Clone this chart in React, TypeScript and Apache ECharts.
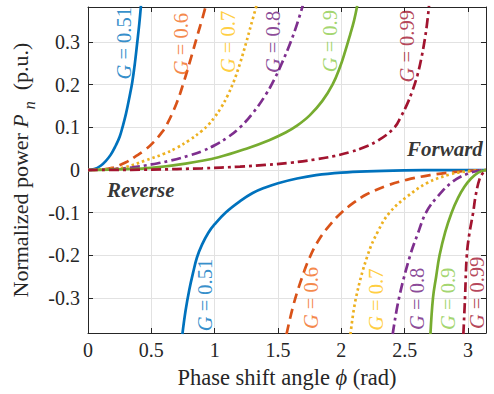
import React, { useEffect, useRef } from "react";
import * as echarts from "echarts";

const X_MAX = 3.1416;
const Y_MIN = -0.382;
const Y_MAX = 0.382;

const gNames = ["0.51", "0.6", "0.7", "0.8", "0.9", "0.99"];

// upper (positive) branches, [phi, Pn]
const up051 = [[0, 0], [0.05, 0.002], [0.1, 0.01], [0.14, 0.021], [0.18, 0.036], [0.22, 0.058], [0.25, 0.078], [0.272, 0.1], [0.3, 0.132], [0.33, 0.175], [0.35, 0.207], [0.37, 0.25], [0.388, 0.297], [0.405, 0.343], [0.418, 0.385]];
const up06 = [[0, 0], [0.1, 0.001], [0.2, 0.006], [0.3, 0.018], [0.37, 0.031], [0.45, 0.047], [0.52, 0.066], [0.58, 0.087], [0.62, 0.105], [0.7, 0.157], [0.76, 0.21], [0.82, 0.27], [0.87, 0.322], [0.9, 0.352], [0.93, 0.385]];
const up07 = [[0, 0], [0.2, 0.003], [0.3, 0.007], [0.45, 0.022], [0.6, 0.038], [0.7, 0.052], [0.8, 0.07], [0.9, 0.092], [0.95, 0.106], [1.0, 0.124], [1.05, 0.146], [1.1, 0.173], [1.15, 0.207], [1.2, 0.25], [1.25, 0.3], [1.29, 0.343], [1.33, 0.385]];
const up08 = [[0, 0], [0.2, 0.002], [0.35, 0.006], [0.5, 0.013], [0.65, 0.022], [0.8, 0.034], [0.9, 0.044], [1.0, 0.058], [1.1, 0.076], [1.2, 0.1], [1.3, 0.133], [1.4, 0.175], [1.47, 0.212], [1.53, 0.25], [1.6, 0.3], [1.65, 0.342], [1.695, 0.385]];
const up09 = [[0, 0], [0.3, 0.002], [0.5, 0.005], [0.77, 0.015], [1.03, 0.03], [1.25, 0.05], [1.43, 0.07], [1.56, 0.088], [1.65, 0.104], [1.75, 0.128], [1.85, 0.162], [1.93, 0.2], [1.99, 0.242], [2.03, 0.278], [2.07, 0.318], [2.1, 0.35], [2.125, 0.385]];
const up099 = [[0, 0], [0.5, 0.001], [0.9, 0.004], [1.2, 0.008], [1.4, 0.012], [1.6, 0.017], [1.8, 0.025], [1.95, 0.033], [2.07, 0.042], [2.17, 0.052], [2.3, 0.071], [2.42, 0.1], [2.47, 0.125], [2.52, 0.155], [2.56, 0.185], [2.6, 0.222], [2.63, 0.26], [2.655, 0.3], [2.675, 0.34], [2.692, 0.385]];

// lower (negative) branches
const down051 = [[0.745, -0.385], [0.77, -0.33], [0.8, -0.28], [0.83, -0.24], [0.86, -0.205], [0.9, -0.175], [0.95, -0.147], [1.0, -0.127], [1.085, -0.1], [1.2, -0.073], [1.3, -0.054], [1.4, -0.041], [1.5, -0.031], [1.65, -0.02], [1.8, -0.012], [2.0, -0.006], [2.2, -0.003], [2.5, -0.001], [2.8, -0.0003], [3.1416, 0]];
const down06 = [[1.567, -0.385], [1.62, -0.318], [1.68, -0.26], [1.75, -0.205], [1.83, -0.16], [1.92, -0.125], [2.0, -0.1], [2.1, -0.076], [2.2, -0.057], [2.357, -0.037], [2.515, -0.023], [2.7, -0.012], [2.88, -0.005], [3.0, -0.002], [3.1416, 0]];
const down07 = [[2.072, -0.385], [2.115, -0.3], [2.207, -0.2], [2.29, -0.143], [2.38, -0.1], [2.52, -0.062], [2.68, -0.03], [2.85, -0.011], [2.97, -0.004], [3.1416, 0]];
const down08 = [[2.405, -0.385], [2.455, -0.3], [2.543, -0.2], [2.6, -0.152], [2.668, -0.1], [2.76, -0.062], [2.88, -0.027], [3.0, -0.008], [3.08, -0.002], [3.1416, 0]];
const down09 = [[2.703, -0.385], [2.723, -0.3], [2.748, -0.25], [2.775, -0.2], [2.82, -0.145], [2.87, -0.1], [2.92, -0.066], [2.97, -0.04], [3.02, -0.021], [3.08, -0.006], [3.1416, 0]];
const down099 = [[2.963, -0.385], [2.976, -0.3], [2.99, -0.2], [3.01, -0.15], [3.04, -0.1], [3.06, -0.06], [3.09, -0.022], [3.12, -0.006], [3.1416, 0]];

const upBranches = [up051, up06, up07, up08, up09, up099];
const downBranches = [down051, down06, down07, down08, down09, down099];

// label anchors (data coordinates)
const upLabelAt = [[0.286, 0.297], [0.736, 0.295], [1.106, 0.3], [1.457, 0.3], [1.909, 0.302], [2.515, 0.29]];
const downLabelAt = [[0.926, -0.293], [1.759, -0.3], [2.272, -0.304], [2.599, -0.302], [2.841, -0.302], [3.073, -0.288]];
const forwardAt = [2.817, 0.049];
const reverseAt = [0.416, -0.048];

const lineColors = ["#0072BD", "#D95319", "#EDB120", "#7E2F8E", "#77AC30", "#A2142F"];
const labelColors = ["#0072BD", "#F26A1B", "#FFC20E", "#6E1A7E", "#8CCB4A", "#A2142F"];
const dashes: any[] = ["solid", [10, 6], [2.5, 3], [10, 4, 3, 4], "solid", [10, 4, 3, 4]];

const FONT = "Liberation Serif";
const AXIS = "#262626";

export default function App() {
  const ref = useRef<HTMLDivElement>(null);
  useEffect(() => {
    document.body.style.margin = "0";
    const chart = echarts.init(ref.current!, null, { renderer: "svg" });

    const series: any[] = [];
    gNames.forEach((g, k) => {
      [upBranches[k], downBranches[k]].forEach((d, j) => {
        series.push({
          type: "line",
          name: `G=${g}-${j}`,
          data: d,
          showSymbol: false,
          smooth: 0.4,
          clip: true,
          lineStyle: { color: lineColors[k], width: 2.7, type: dashes[k] },
          z: 3,
        });
      });
    });

    const labelItems: any[] = [];
    gNames.forEach((g, k) => {
      [upLabelAt[k], downLabelAt[k]].forEach((p) => {
        labelItems.push({
          value: p,
          label: {
            formatter: `{i|G}{n| = ${g}}`,
            rich: {
              i: { fontStyle: "italic", fontFamily: FONT, fontSize: 20.5, color: labelColors[k] },
              n: { fontFamily: FONT, fontSize: 20.5, color: labelColors[k] },
            },
          },
        });
      });
    });
    [[forwardAt, "Forward"], [reverseAt, "Reverse"]].forEach(([p, t]: any) => {
      labelItems.push({
        value: p,
        label: {
          formatter: t,
          rotate: 0,
          fontFamily: FONT,
          fontSize: 21,
          fontWeight: "bold",
          fontStyle: "italic",
          color: "#000",
        },
      });
    });

    series.push({
      type: "scatter",
      data: labelItems,
      symbolSize: 1,
      itemStyle: { color: "transparent" },
      silent: true,
      z: 5,
      label: { show: true, position: "inside", rotate: 90, fontFamily: FONT },
    });

    const fmtX = (v: number) => (Math.abs(v * 2 - Math.round(v * 2)) < 1e-6 ? String(v) : "");
    const fmtY = (v: number) => {
      const r = Math.round(v * 10);
      return Math.abs(v * 10 - r) < 1e-6 ? String(r / 10) : "";
    };

    chart.setOption({
      animation: false,
      backgroundColor: "#ffffff",
      textStyle: { fontFamily: FONT },
      grid: { left: 88, right: 8, top: 7, bottom: 61 },
      xAxis: [
        {
          type: "value",
          min: 0,
          max: X_MAX,
          interval: 0.5,
          axisLine: { show: true, onZero: false, lineStyle: { color: AXIS, width: 1 } },
          axisTick: { show: true, inside: true, length: 5, lineStyle: { color: AXIS } },
          axisLabel: { color: AXIS, fontFamily: FONT, fontSize: 20, margin: 7, formatter: fmtX },
          splitLine: { show: true, lineStyle: { color: "#e2e2e2", width: 1 } },
          name: "{a|Phase shift angle }{i|ϕ}{a| (rad)}",
          nameLocation: "middle",
          nameGap: 33,
          nameTextStyle: {
            rich: {
              a: { fontFamily: FONT, fontSize: 22.5, color: AXIS },
              i: { fontFamily: FONT, fontSize: 22.5, fontStyle: "italic", color: AXIS },
            },
          },
        },
        {
          type: "value",
          position: "top",
          min: 0,
          max: X_MAX,
          interval: 0.5,
          axisLine: { show: true, onZero: false, lineStyle: { color: AXIS, width: 1 } },
          axisTick: { show: true, inside: true, length: 5, lineStyle: { color: AXIS } },
          axisLabel: { show: false },
          splitLine: { show: false },
        },
      ],
      yAxis: [
        {
          type: "value",
          min: Y_MIN,
          max: Y_MAX,
          splitNumber: 8,
          axisLine: { show: true, onZero: false, lineStyle: { color: AXIS, width: 1 } },
          axisTick: { show: true, inside: true, length: 5, lineStyle: { color: AXIS } },
          axisLabel: { color: AXIS, fontFamily: FONT, fontSize: 20, margin: 8, formatter: fmtY },
          splitLine: { show: true, lineStyle: { color: "#e2e2e2", width: 1 } },
          name: "{a|Normalized power }{p|P}{s|n}{a|  (p.u.)}",
          nameLocation: "middle",
          nameRotate: 90,
          nameGap: 45,
          nameTextStyle: {
            rich: {
              a: { fontFamily: FONT, fontSize: 22, color: AXIS },
              p: { fontFamily: FONT, fontSize: 22, fontStyle: "italic", color: AXIS },
              s: { fontFamily: FONT, fontSize: 16, fontStyle: "italic", color: AXIS, padding: [17, 0, 0, 5] },
            },
          },
        },
        {
          type: "value",
          position: "right",
          min: Y_MIN,
          max: Y_MAX,
          splitNumber: 8,
          axisLine: { show: true, onZero: false, lineStyle: { color: AXIS, width: 1 } },
          axisTick: { show: true, inside: true, length: 5, lineStyle: { color: AXIS } },
          axisLabel: { show: false },
          splitLine: { show: false },
        },
      ],
      series,
    });
    return () => chart.dispose();
  }, []);
  return <div ref={ref} style={{ width: 494, height: 394 }} />;
}
